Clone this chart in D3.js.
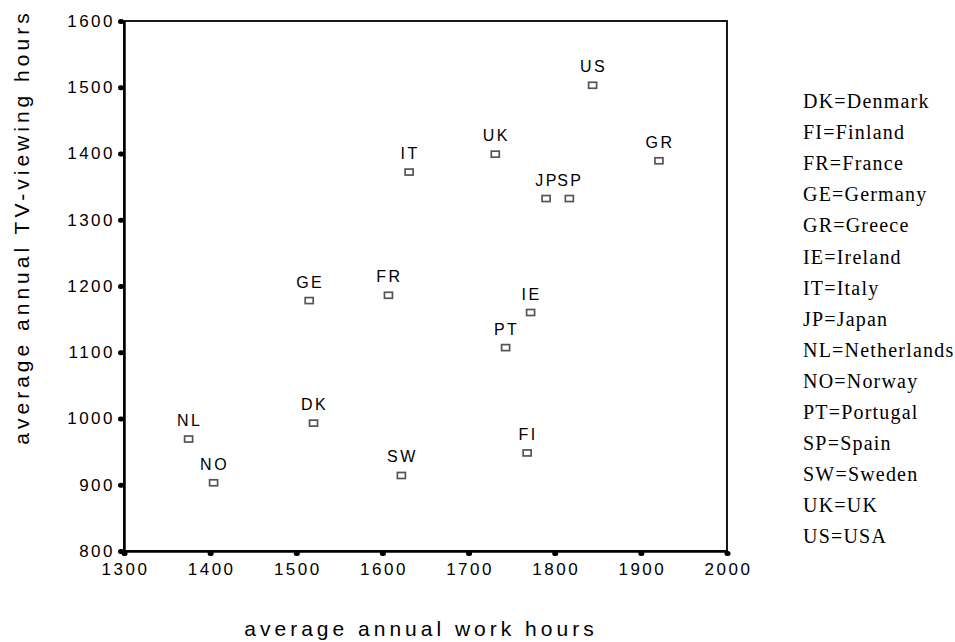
<!DOCTYPE html>
<html lang="en">
<head>
<meta charset="utf-8">
<title>Work hours vs TV hours</title>
<script src="https://cdn.jsdelivr.net/npm/d3@7"></script>
<style>
body { margin:0; background:#fff; }
.tick text { font: 17px "Liberation Sans", Arial, sans-serif; letter-spacing:2.5px; fill:#000; }
.ptlab { font: 16px "Liberation Sans", Arial, sans-serif; letter-spacing:2.5px; fill:#000; }
.atitle { font: 21px "Liberation Sans", Arial, sans-serif; letter-spacing:4px; fill:#000; }
.legend { font: 20px "Liberation Serif", "Times New Roman", serif; letter-spacing:1.2px; fill:#000; }
</style>
</head>
<body>
<div id="main"></div>
<script>
// data
var codes = ['US','GR','UK','IT','JP','SP','GE','FR','IE','PT','NL','NO','DK','SW','FI']
var workHours = [1844,1921,1731,1631,1790,1817,1515,1607,1772,1743,1375,1404,1520,1622,1768]
var tvHours = [1503,1389,1399,1372,1332,1332,1178,1186,1160,1107,969,903,993,914,948]
var xTicks = [1300,1400,1500,1600,1700,1800,1900,2000]
var yTicks = [800,900,1000,1100,1200,1300,1400,1500,1600]
var legendItems = ['DK=Denmark','FI=Finland','FR=France','GE=Germany','GR=Greece','IE=Ireland','IT=Italy',
  'JP=Japan','NL=Netherlands','NO=Norway','PT=Portugal','SP=Spain','SW=Sweden','UK=UK','US=USA']

var width = 955, height = 642
var mLeft = 124, mRight = 727, mTop = 21, mBottom = 551

var svg = d3.select("#main").append("svg").attr("width",width).attr("height",height)

var x = d3.scaleLinear().domain([1300,2000]).range([mLeft,mRight])
var y = d3.scaleLinear().domain([800,1600]).range([mBottom,mTop])

// thin frame on top / right
svg.append("rect").attr("x",mLeft).attr("y",mTop).attr("width",mRight-mLeft).attr("height",mBottom-mTop)
  .attr("fill","none").attr("stroke","#000").attr("stroke-width",1.8)

var xAxis = svg.append("g").attr("transform","translate(0,"+mBottom+")")
  .call(d3.axisBottom(x).tickValues(xTicks).tickSize(0).tickPadding(12).tickFormat(d3.format("d")))
xAxis.select(".domain").attr("stroke","#000").attr("stroke-width",2.5)
xAxis.selectAll(".tick").append("rect").attr("x",-3).attr("y",0).attr("width",6).attr("height",5).attr("rx",2.5).attr("fill","#000")
xAxis.selectAll(".tick text").attr("dx",1)

var yAxis = svg.append("g").attr("transform","translate("+mLeft+",0)")
  .call(d3.axisLeft(y).tickValues(yTicks).tickSize(0).tickPadding(9).tickFormat(d3.format("d")))
yAxis.select(".domain").attr("stroke","#000").attr("stroke-width",2.5)
yAxis.selectAll(".tick").append("rect").attr("x",-6).attr("y",-2.5).attr("width",6).attr("height",5).attr("rx",2.5).attr("fill","#000")

var pts = svg.selectAll("g.pt").data(codes).enter().append("g").attr("class","pt")
  .attr("transform",function(d,i){return "translate("+x(workHours[i])+","+y(tvHours[i])+")"})
pts.append("rect").attr("x",-4).attr("y",-3).attr("width",8).attr("height",6)
  .attr("fill","#fff").attr("stroke","#555").attr("stroke-width",1.7)
pts.append("text").attr("class","ptlab").attr("text-anchor","middle").attr("y",-13).attr("dx",1)
  .text(function(d){return d})

svg.append("text").attr("class","atitle").attr("text-anchor","middle")
  .attr("transform","translate(29,227) rotate(-90)").text("average annual TV-viewing hours")
svg.append("text").attr("class","atitle").attr("text-anchor","middle")
  .attr("x",421).attr("y",636).text("average annual work hours")

svg.selectAll("text.legend").data(legendItems).enter().append("text").attr("class","legend")
  .attr("x",803).attr("y",function(d,i){return 108+i*31.1}).text(function(d){return d})
</script>
</body>
</html>
